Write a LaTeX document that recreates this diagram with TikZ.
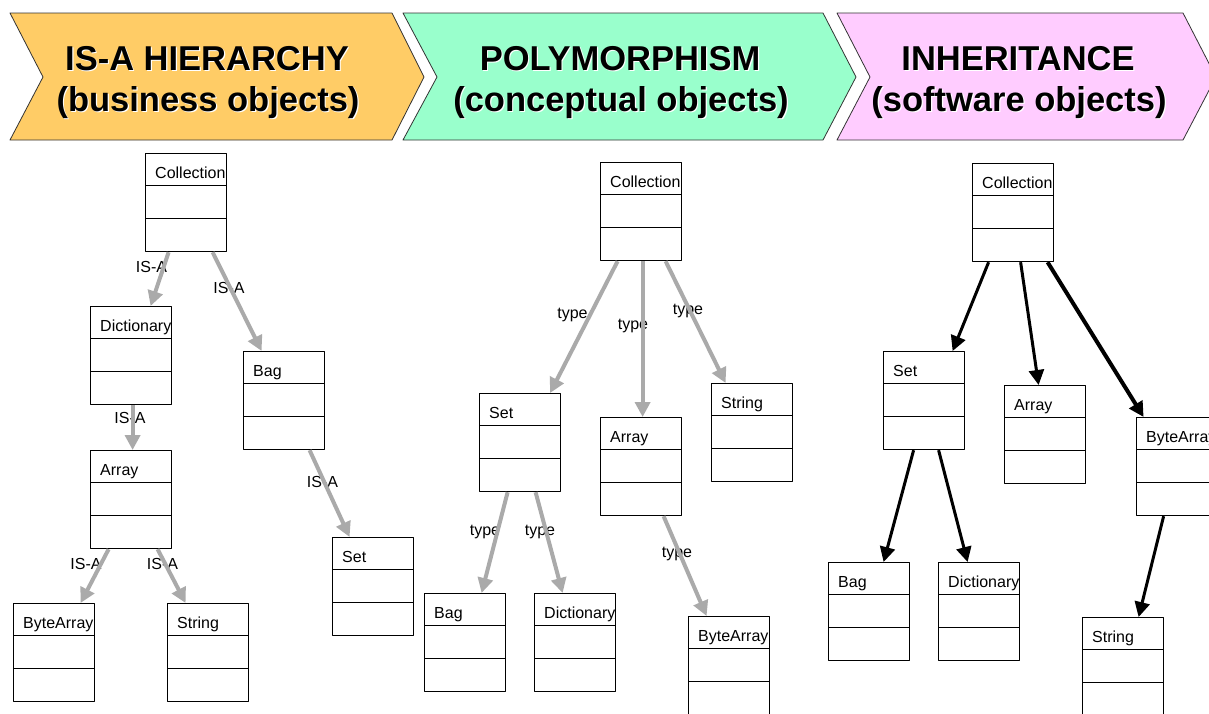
\documentclass[tikz,border=0pt]{standalone}
\usepackage{fontspec}
\setmainfont{Liberation Sans}
\usetikzlibrary{arrows.meta}
\definecolor{isaorange}{RGB}{255,204,102}
\definecolor{polygreen}{RGB}{153,255,204}
\definecolor{inhpink}{RGB}{255,204,255}
\definecolor{linkgray}{RGB}{170,170,170}

\begin{document}
\begin{tikzpicture}[line join=round,>={Triangle[length=15pt,width=15pt]},x=1pt,y=-1pt,
  classbox/.style={draw,line width=1.2pt,minimum width=81pt,minimum height=98pt,inner sep=0pt,anchor=north west},
  classname/.style={anchor=base west,inner sep=0pt,font=\fontsize{16}{19}\selectfont},
  linklabel/.style={anchor=base,inner sep=0pt,font=\fontsize{16}{19}\selectfont},
  isa/.style={->,draw=linkgray,line width=4pt},
  inh/.style={->,line width=3pt},
  banner/.style={draw=black!80,line width=0.8pt},
  title/.style={anchor=base,inner sep=0pt,font=\fontsize{34.5}{40}\selectfont\bfseries}]
\useasboundingbox (0,0) rectangle (1209,713);
\clip (0,0) rectangle (1209,713);

% chevron banners
\filldraw[banner,fill=isaorange] (10,13) -- (392,13) -- (424,77) -- (392,140) -- (10,140) -- (43,77) -- cycle;
\filldraw[banner,fill=polygreen] (403,13) -- (823,13) -- (856,77) -- (823,140) -- (403,140) -- (437,77) -- cycle;
\filldraw[banner,fill=inhpink] (837,13) -- (1183,13) -- (1216,77) -- (1183,140) -- (837,140) -- (870,77) -- cycle;

\foreach \x/\y/\t [count=\i] in {207/70/IS-A HIERARCHY, 208/111/{(business objects)},
    620/70/POLYMORPHISM, 621/111/{(conceptual objects)},
    1018/70/INHERITANCE, 1019/111/{(software objects)}} {
  \node[title,white] (shadow\i) at (\x+1.2,\y+1.2) {\t};
  \node[title] (title\i) at (\x,\y) {\t};
}

% class boxes
\foreach \n/\x/\y/\t in {c1/145/153/Collection, d1/90/306/Dictionary, b1/243/351/Bag,
    a1/90/450/Array, s1/332/537/Set, ba1/13/603/ByteArray, st1/167/603/String,
    c2/600/162/Collection, s2/479/393/Set, a2/600/417/Array, st2/711/383/String,
    b2/424/593/Bag, d2/534/593/Dictionary, ba2/688/616/ByteArray,
    c3/972/163/Collection, s3/883/351/Set, a3/1004/385/Array, ba3/1136/417/ByteArray,
    b3/828/562/Bag, d3/938/562/Dictionary, st3/1082/617/String} {
  \node[classbox] (\n) at (\x,\y) {};
  \draw[line width=1.2pt] ([yshift=-32.7pt]\n.north west) -- ([yshift=-32.7pt]\n.north east)
    ([yshift=-65.3pt]\n.north west) -- ([yshift=-65.3pt]\n.north east);
  \begin{scope}
    \clip (\n.south west) rectangle (\n.north east);
    \node[classname] (\n-name) at ([xshift=10pt,yshift=-25pt]\n.north west) {\t};
  \end{scope}
}

% link labels
\foreach \x/\y/\t [count=\i] in {151.5/272.5/IS-A, 229/293/IS-A, 130/423/IS-A,
    322.5/487/IS-A, 86/569/IS-A, 162.5/569/IS-A,
    572.5/318/type, 633/329/type, 688/314/type, 485/535/type, 540/535/type, 677/557/type}
  \node[linklabel] (lbl\i) at (\x,\y) {\t};

% is-a
\draw[isa] ([xshift=-17.5pt]c1.south) -- ([xshift=19.5pt]d1.north);
\draw[isa] ([xshift=26.5pt]c1.south) -- ([xshift=-22.5pt]b1.north);
\draw[isa] ([xshift=1.5pt]d1.south) -- ([xshift=1.5pt]a1.north);
\draw[isa] ([xshift=25.5pt]b1.south) -- ([xshift=-23.5pt]s1.north);
\draw[isa] ([xshift=-22.5pt]a1.south) -- ([xshift=26.5pt]ba1.north);
\draw[isa] ([xshift=26.5pt]a1.south) -- ([xshift=-22.5pt]st1.north);

% type
\draw[isa] ([xshift=-23.5pt]c2.south) -- ([xshift=30pt]s2.north);
\draw[isa] ([xshift=1.5pt]c2.south) -- ([xshift=1.5pt]a2.north);
\draw[isa] ([xshift=24.5pt]c2.south) -- ([xshift=-26.5pt]st2.north);
\draw[isa] ([xshift=-12.5pt]s2.south) -- ([xshift=16.5pt]b2.north);
\draw[isa] ([xshift=15.5pt]s2.south) -- ([xshift=-12.5pt]d2.north);
\draw[isa] ([xshift=22.5pt]a2.south) -- ([xshift=-22.5pt]ba2.north);

% inheritance
\draw[inh] ([xshift=-24.5pt]c3.south) -- ([xshift=28.5pt]s3.north);
\draw[inh] ([xshift=7.5pt]c3.south) -- ([xshift=-6.5pt]a3.north);
\draw[inh,line width=4pt] ([xshift=34.5pt]c3.south) -- ([xshift=-33.5pt]ba3.north);
\draw[inh] ([xshift=-10.5pt]s3.south) -- ([xshift=14.5pt]b3.north);
\draw[inh] ([xshift=14.5pt]s3.south) -- ([xshift=-11.5pt]d3.north);
\draw[inh] ([xshift=-13.5pt]ba3.south) -- ([xshift=15.5pt]st3.north);
\end{tikzpicture}
\end{document}
